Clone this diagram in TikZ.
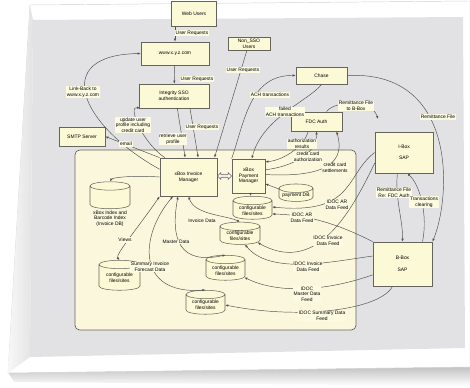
\documentclass[tikz,border=0pt]{standalone}
\usepackage{fontspec}
\setmainfont{Liberation Sans}
\usepackage{tikz}
\usetikzlibrary{arrows.meta, shapes.geometric, shapes.arrows, calc}

\definecolor{pagegray}{RGB}{226,226,229}
\definecolor{coreyellow}{RGB}{250,247,220}
\definecolor{boxyellow}{RGB}{252,249,214}
\definecolor{lblyellow}{RGB}{252,250,224}
\definecolor{boxedge}{RGB}{100,100,92}
\definecolor{lineclr}{RGB}{80,80,76}

\begin{document}
\begin{tikzpicture}[
    x=0.03cm, y=-0.03cm,
    % boxes for the systems
    sysbox/.style={
        rectangle,
        draw=boxedge,
        line width=0.6pt,
        fill=boxyellow,
        align=center,
        inner sep=1pt,
        font=\fontsize{4.2}{4.8}\selectfont
    },
    dbcyl/.style={
        cylinder, shape border rotate=90, aspect=0.3,
        draw=boxedge, line width=0.45pt, fill=boxyellow,
        align=center, inner sep=0.5pt,
        font=\fontsize{4.2}{4.8}\selectfont
    },
    flowlbl/.style={fill=lblyellow, inner sep=0.6pt, align=center, font=\fontsize{4.2}{4.8}\selectfont},
    flow/.style={-{Latex[length=2.6pt,width=2pt]}, line width=0.4pt, draw=lineclr},
    dflow/.style={flow, {Latex[length=2.6pt,width=2pt]}-{Latex[length=2.6pt,width=2pt]}}
]
    \useasboundingbox (0,0) rectangle (470,388);

    % the sheet of paper
    \fill[white] (0,0) rectangle (470,388);
    \shade[top color=gray!50, bottom color=white] (8,372) -- (470,366) -- (470,386) -- (14,382) -- cycle;
    \fill[white, draw=gray!35] (30,5) -- (470,1) -- (470,367) -- (8,373) -- cycle;
    \shade[left color=gray!6, right color=gray!22] (8,373) -- (30,5) -- (33,20) -- (30,357) -- cycle;
    \fill[pagegray] (33,20) -- (463,17) -- (465,348) -- (30,357) -- cycle;

    % the xBox system
    \node[draw=boxedge, fill=coreyellow, rounded corners=4pt, line width=0.6pt,
          minimum width=8.43cm, minimum height=5.4cm] (core) at (215.5,240) {};

    % Nodes - outside
    \node[sysbox, minimum width=1.35cm, minimum height=0.75cm, text depth=-2pt] (webusers) at (194,14) {Web Users};
    \node[sysbox, minimum width=2.04cm, minimum height=0.69cm] (www) at (175,53.5) {www.x.y.z.com};
    \node[sysbox, minimum width=2.1cm, minimum height=0.72cm] (sso) at (174,96) {Integrity SSO\\authentication};
    \node[sysbox, minimum width=1.26cm, minimum height=0.39cm] (nonsso) at (249,43.5) {Non\_SSO\\Users};
    \node[sysbox, minimum width=1.53cm, minimum height=0.51cm] (chase) at (321.5,75.5) {Chase};
    \node[sysbox, minimum width=1.53cm, minimum height=0.57cm] (fdc) at (316.5,121.5) {FDC Auth};
    \node[sysbox, minimum width=1.74cm, minimum height=1.23cm] (ibox) at (404,152.5) {I-Box\\[5pt]SAP};
    \node[sysbox, minimum width=1.77cm, minimum height=1.32cm] (bbox) at (402.5,264) {B-Box\\[5pt]SAP};
    \node[sysbox, minimum width=1.38cm, minimum height=0.57cm] (smtp) at (82,136.5) {SMTP Server};
    \coordinate (remend) at (378,119);

    % Nodes - inside
    \node[sysbox, minimum width=1.71cm, minimum height=1.14cm] (invmgr) at (188.5,177) {xBox Invoice\\Manager};
    \node[sysbox, minimum width=0.99cm, minimum height=1.02cm] (paymgr) at (248.5,176) {xBox\\Payment\\Manager};
    \node[double arrow, draw=boxedge, fill=white, line width=0.45pt, double arrow head extend=1.2pt,
          minimum height=0.42cm, minimum width=0.2cm, inner sep=0.5pt] (sync) at (224.5,176) {};
    \node[dbcyl, minimum width=1.2cm, minimum height=0.81cm,
          label={[font=\fontsize{4.2}{4.8}\selectfont, align=center, inner sep=1pt]below:{xBox Index and\\Barcode Index\\(Invoice DB)}}] (invdb) at (110,198) {\phantom{configurable}\\\phantom{files}};
    \node[dbcyl, minimum width=1.02cm, minimum height=0.51cm] (paydb) at (296,195.5) {payment DB};
    \node[dbcyl, minimum width=1.17cm, minimum height=0.69cm] (cfga) at (252.5,210.5) {configurable\\files/sites};
    \node[dbcyl, minimum width=1.2cm, minimum height=0.66cm] (cfgb) at (240,236) {configurable\\files/sites};
    \node[dbcyl, minimum width=1.17cm, minimum height=0.75cm] (cfgc) at (225.5,270.5) {configurable\\files/sites};
    \node[dbcyl, minimum width=1.23cm, minimum height=0.9cm] (cfgd) at (119.5,278) {configurable\\files/sites};
    \node[dbcyl, minimum width=1.17cm, minimum height=0.72cm] (cfge) at (205.5,305) {configurable\\files/sites};

    % Edges - user side
    \draw[flow] (webusers.south -| www.north) -- (www);
    \draw[flow] (www) -- (sso);
    \draw[flow] ([xshift=0.48cm]sso.south) -- ([xshift=0.29cm]invmgr.north);
    \draw[flow] ([xshift=0.1cm]sso.south) -- ([xshift=-0.1cm]invmgr.north);
    \draw[flow] ([xshift=0.15cm]invmgr.north west) .. controls (140,140) and (128,105) .. (sso.200);
    \draw[flow] (invmgr.165) .. controls (80,125) and (50,55) .. (www.west);
    \draw[flow] (invmgr.north west) -- (smtp.east);
    \draw[flow] (nonsso) -- ([xshift=0.78cm]invmgr.north);

    % Edges - payment side
    \draw[flow] (paymgr.north west) .. controls (245,120) and (250,75) .. (chase.west);
    \draw[flow] (chase.south) .. controls (310,100) and (262,118) .. ([xshift=0.1cm]paymgr.north);
    \draw[flow] ([xshift=-0.25cm]fdc.south) .. controls (305,145) and (285,160) .. (paymgr.40);
    \draw[flow] (paymgr.20) .. controls (300,165) and (317,150) .. (fdc.south);
    \draw[flow] (paymgr.5) .. controls (330,178) and (345,160) .. ([xshift=0.6cm]fdc.south);
    \draw[flow] ([xshift=0.3cm]fdc.north) .. controls (335,100) and (372,100) .. (remend);
    \draw[flow] (chase.east) .. controls (460,70) and (450,200) .. ([xshift=0.9cm]bbox.north);
    \draw[flow] ([xshift=-0.2cm]ibox.south) .. controls (395,200) and (403,220) .. (bbox.north);
    \draw[flow] ([xshift=0.6cm]bbox.north) .. controls (428,215) and (420,185) .. ([xshift=0.1cm]ibox.south);

    % Edges - IDOC feeds
    \draw[flow] (ibox.west) .. controls (345,175) and (355,215) .. (cfga.10);
    \draw[flow] (bbox.north west) .. controls (340,225) and (310,215) .. (cfga.-10);
    \draw[flow] (ibox.200) .. controls (350,215) and (315,275) .. (cfgb.-20);
    \draw[flow] (bbox.165) .. controls (330,262) and (270,275) .. (cfgb.-60);
    \draw[flow] (bbox.200) .. controls (330,290) and (280,295) .. (cfgc.-20);
    \draw[flow] ([xshift=-0.3cm]bbox.south) .. controls (380,310) and (300,320) .. (cfge.east);

    % Edges - inside xBox
    \draw[flow] (invmgr.west) .. controls (130,175) and (112,178) .. (invdb.north);
    \draw[dflow] (invmgr.south west) .. controls (140,225) and (115,255) .. (cfgd.north);
    \draw[dflow] ([xshift=0.4cm]invmgr.south west) .. controls (140,235) and (135,295) .. (cfge.north);
    \draw[dflow] ([xshift=0.55cm]invmgr.south west) .. controls (170,240) and (180,265) .. (cfgc.north);
    \draw[dflow] (invmgr.south) .. controls (195,215) and (225,215) .. (cfgb.north);
    \draw[flow] (paymgr) -- (cfga);
    \draw[flow] (paydb) -- (paymgr.-25);

    % Labels
    \node[flowlbl] (lur1) at (192,33) {User Requests};
    \node[flowlbl] (lur2) at (197,79) {User Requests};
    \node[flowlbl] (lur3) at (243,70) {User Requests};
    \node[flowlbl] (lur4) at (202,127) {User Requests};
    \node[flowlbl] (llink) at (83,92) {Link-Back to\\www.x.y.z.com};
    \node[flowlbl] (lupd) at (133,125) {update user\\profile including\\credit card};
    \node[flowlbl] (lretr) at (173,139) {retrieve user\\profile};
    \node[flowlbl] (lmail) at (126,144) {email};
    \node[flowlbl] (lach) at (270,95) {ACH transactions};
    \node[flowlbl] (lfail) at (285,112) {failed\\ACH transactions};
    \node[flowlbl] (lremb) at (356,106) {Remittance File\\to B-Box};
    \node[flowlbl] (lremf) at (438,117) {Remittance File};
    \node[flowlbl] (lauth) at (302,144) {authorization\\results};
    \node[flowlbl] (lcca) at (308,157) {credit card\\authorization};
    \node[flowlbl] (lccs) at (335,168) {credit card\\settlements};
    \node[flowlbl] (lremfdc) at (394,193) {Remittance File\\Re: FDC Auth};
    \node[flowlbl] (lclear) at (424,202) {Transactions\\clearing};
    \node[flowlbl] (lar1) at (337,205) {IDOC AR\\Data Feed};
    \node[flowlbl] (lar2) at (302,218) {IDOC AR\\Data Feed};
    \node[flowlbl] (linv1) at (328,241) {IDOC Invoice\\Data Feed};
    \node[flowlbl] (linv2) at (308,267) {IDOC Invoice\\Data Feed};
    \node[flowlbl] (lmast) at (307,294) {IDOC\\Master Data\\Feed};
    \node[flowlbl] (lsum) at (322,316) {IDOC Summary Data\\Feed};
    \node[flowlbl] (linvd) at (202,221) {Invoice Data};
    \node[flowlbl] (lmd) at (176,242) {Master Data};
    \node[flowlbl] (lviews) at (125,240) {Views};
    \node[flowlbl] (lsumi) at (150,267) {Summary Invoice\\Forecast Data};

\end{tikzpicture}
\end{document}
